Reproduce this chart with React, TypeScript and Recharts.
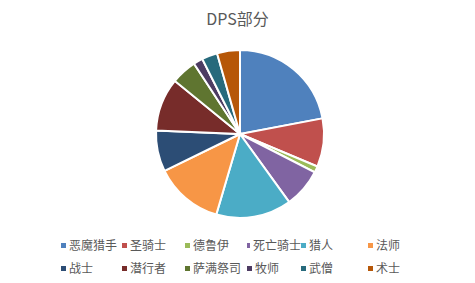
import { PieChart, Pie, Cell, Legend } from "recharts";

const classes = ["恶魔猎手", "圣骑士", "德鲁伊", "死亡骑士", "猎人", "法师", "战士", "潜行者", "萨满祭司", "牧师", "武僧", "术士"];
const shares = [22, 9.3, 1.2, 7.5, 14.5, 13.2, 7.9, 10.2, 4.9, 1.8, 3, 4.4];
const colors = ["#4F81BD", "#C0504D", "#9BBB59", "#8064A2", "#4BACC6", "#F79646", "#2C4D75", "#772C2A", "#5F7530", "#4D3B62", "#276A7C", "#B65708"];

const data = classes.map((name, i) => ({ name, value: shares[i] }));

const font = "'Noto Sans CJK SC', 'Liberation Sans', sans-serif";

function LegendGrid() {
  return (
    <div
      style={{
        display: "grid",
        gridTemplateColumns: "61px 63px 62px 54px 67px 60px",
        rowGap: 7,
        paddingLeft: 61,
        fontFamily: font,
        fontSize: 12,
        color: "#595959",
        lineHeight: "16px",
      }}
    >
      {classes.map((c, i) => (
        <div key={c} style={{ display: "flex", alignItems: "center", whiteSpace: "nowrap" }}>
          <span style={{ width: 5, height: 5, background: colors[i], marginRight: 3, display: "inline-block" }} />
          {c}
        </div>
      ))}
    </div>
  );
}

export default function App() {
  return (
    <div style={{ position: "absolute", left: 0, top: 0, width: 475, height: 283, background: "#fff" }}>
      <div
        style={{
          position: "absolute",
          top: 6,
          width: 475,
          textAlign: "center",
          fontFamily: font,
          fontSize: 16,
          color: "#595959",
        }}
      >
        DPS部分
      </div>
      <PieChart width={475} height={283}>
        <Pie
          data={data}
          dataKey="value"
          nameKey="name"
          cx={235}
          cy={129}
          outerRadius={84}
          startAngle={90}
          endAngle={-270}
          stroke="#fff"
          strokeWidth={2}
          isAnimationActive={false}
        >
          {data.map((d, i) => (
            <Cell key={d.name} fill={colors[i]} />
          ))}
        </Pie>
        <Legend content={<LegendGrid />} wrapperStyle={{ left: 0, top: 237, width: 475 }} />
      </PieChart>
    </div>
  );
}
